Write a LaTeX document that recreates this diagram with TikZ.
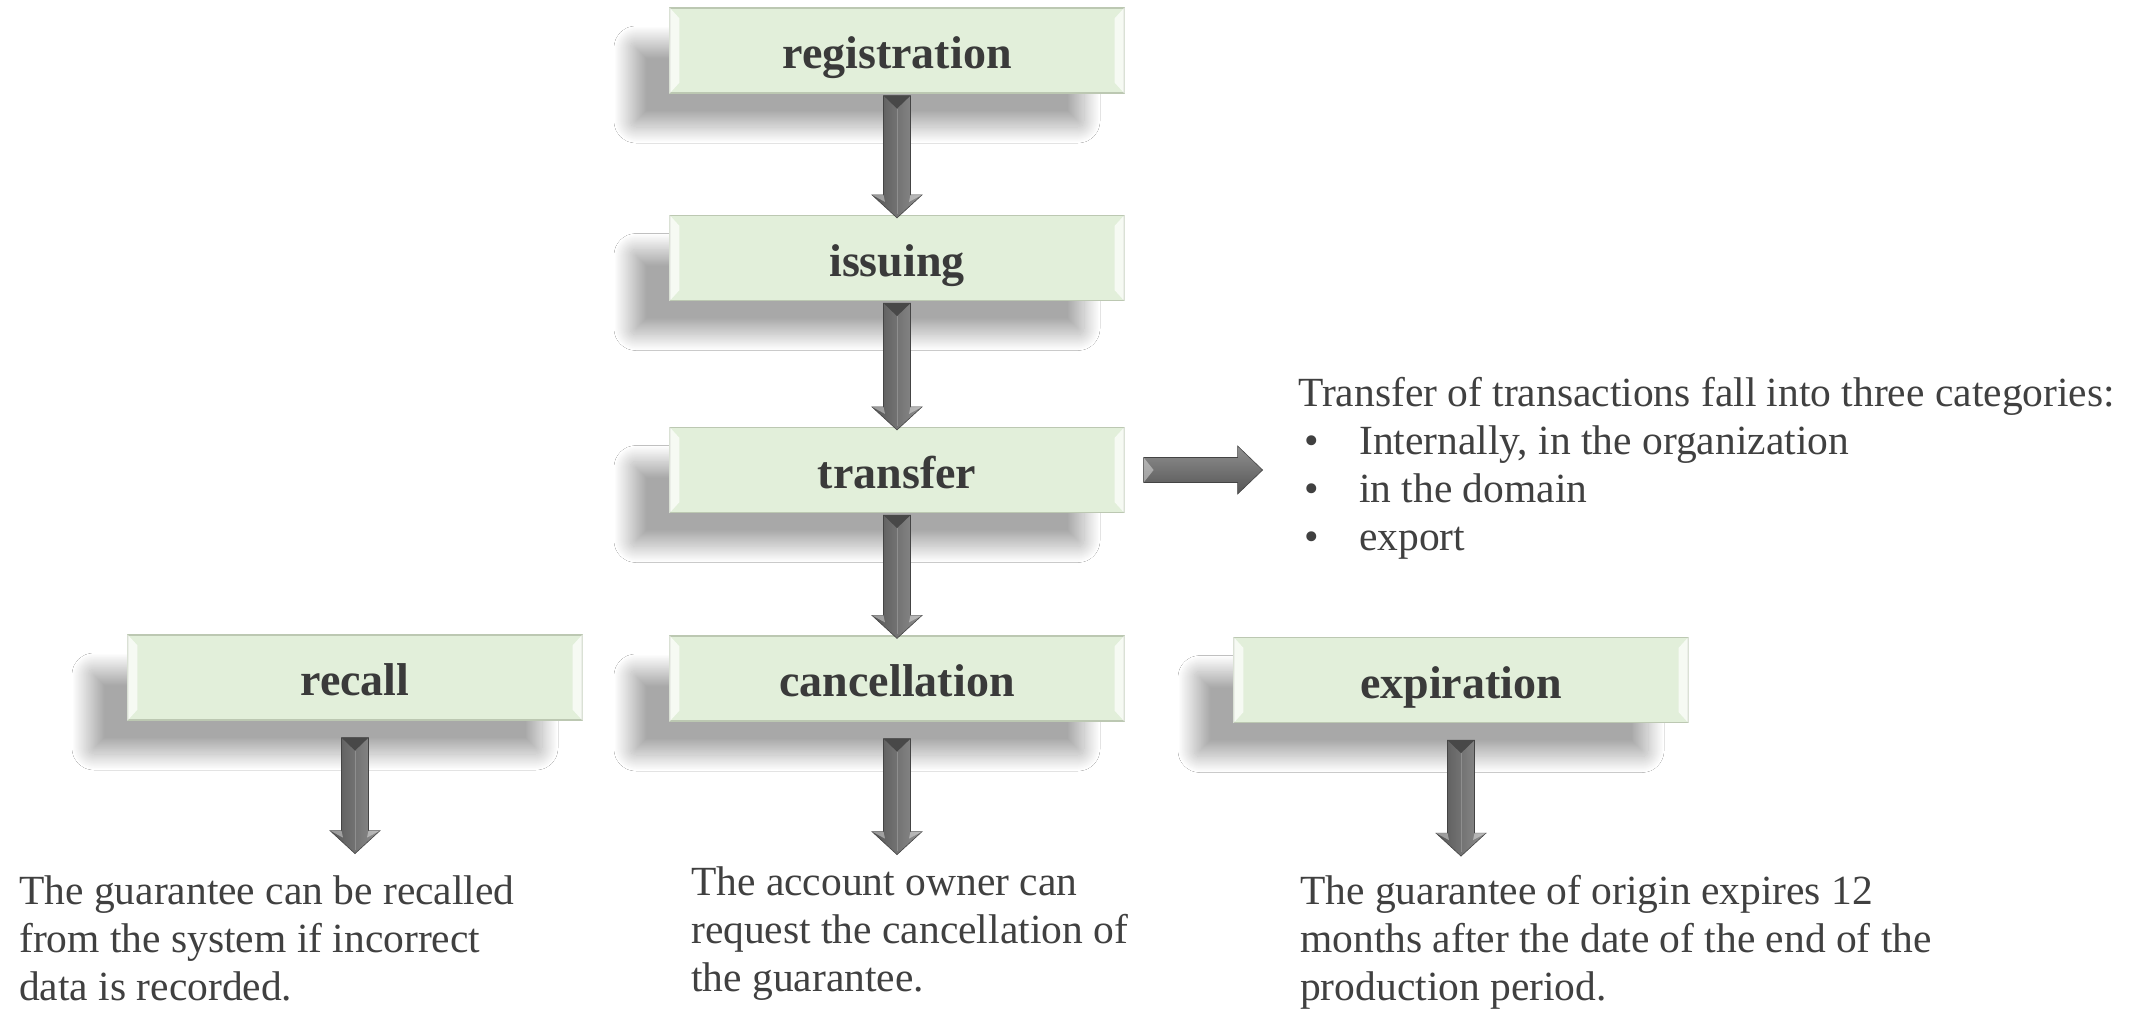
\documentclass[tikz,border=0pt]{standalone}
\usepackage{fontspec}
\setmainfont{Liberation Serif}
\usetikzlibrary{calc,shadows.blur}
\definecolor{boxfill}{HTML}{E2EFDA}
\definecolor{boxline}{HTML}{BCC8B2}
\definecolor{labeltext}{HTML}{3A3A3A}
\definecolor{bodytext}{HTML}{404040}
\definecolor{arrdark}{HTML}{555555}
\definecolor{arrlight}{HTML}{909090}

\tikzset{
 stage/.style={draw=boxline, line width=1.2pt, fill=boxfill, minimum width=454pt,
   minimum height=85pt, inner sep=0pt, text=labeltext, text height=36pt, text depth=0pt,
   font=\fontsize{46}{55}\selectfont\bfseries,
   blur shadow={shadow xshift=-40pt, shadow yshift=-34pt, shadow blur radius=16pt,
     shadow blur extra rounding=6pt, shadow blur steps=50, shadow opacity=34}},
 note/.style={anchor=north west, inner sep=0pt, align=left, text=bodytext,
   font=\fontsize{41.5}{48}\selectfont},
 bevel/.style={fill=white, opacity=.7},
}

\newcommand\vblock[2]{%
 \shade[left color=arrdark, right color=arrlight, draw=arrdark!80!black, line width=0.6pt]
   let \p1=(#1), \p2=(#2) in
   (\x1-13.5,\y1) -- (\x1+13.5,\y1) -- (\x1+13.5,\y2+23) -- (\x1+25,\y2+23) -- (\x1,\y2)
   -- (\x1-25,\y2+23) -- (\x1-13.5,\y2+23) -- cycle;
 \fill[arrdark!85!black] let \p1=(#1) in
   (\x1-13.5,\y1) -- (\x1+13.5,\y1) -- (\x1,\y1-13) -- cycle;
 \fill[white,opacity=.4] let \p1=(#1),\p2=(#2) in
   (\x1-25,\y2+23) -- (\x1-13.5,\y2+23) -- (\x1-12,\y2+16) -- cycle
   (\x1+25,\y2+23) -- (\x1+13.5,\y2+23) -- (\x1+12,\y2+16) -- cycle;
 \draw[white,opacity=.2,line width=1pt] let \p1=(#1),\p2=(#2) in
   (\x1,\y1-13) -- (\x1,\y2+4);
}
\newcommand\hblock[2]{%
 \shade[top color=arrlight, bottom color=arrdark, draw=arrdark!80!black, line width=0.6pt]
   let \p1=(#1), \p2=(#2) in
   (\x1,\y1+12.5) -- (\x2-25,\y1+12.5) -- (\x2-25,\y1+24) -- (\x2,\y1)
   -- (\x2-25,\y1-24) -- (\x2-25,\y1-12.5) -- (\x1,\y1-12.5) -- cycle;
 \fill[white,opacity=.4] let \p1=(#1) in
   (\x1,\y1+12.5) -- (\x1+10,\y1) -- (\x1,\y1-12.5) -- cycle;
}
\newcommand\boxbevel[1]{%
 \fill[bevel] (#1.north west) -- ++(10,-11) -- ($(#1.south west)+(10,11)$) -- (#1.south west) -- cycle;
 \fill[bevel] (#1.north east) -- ++(-10,-11) -- ($(#1.south east)+(-10,11)$) -- (#1.south east) -- cycle;
}

\begin{document}
\begin{tikzpicture}[x=1pt,y=1pt]
\useasboundingbox (0,0) rectangle (2141,-1009);
\fill[white] (0,0) rectangle (2141,-1009);

\node[stage] (reg) at (897,-50.5) {registration};
\node[stage] (iss) at (897,-258) {issuing};
\node[stage] (tra) at (897,-470) {transfer};
\node[stage] (can) at (897,-678.5) {cancellation};
\node[stage] (rec) at (355,-677.5) {recall};
\node[stage] (exp) at (1461,-680) {expiration};
\foreach \n in {reg,iss,tra,can,rec,exp} {\boxbevel{\n}}

\node[note] (tnote) at (1298,-377) {Transfer of transactions fall into three categories:\\
 \makebox[61pt][l]{\hspace{6pt}•}Internally, in the organization\\
 \makebox[61pt][l]{\hspace{6pt}•}in the domain\\
 \makebox[61pt][l]{\hspace{6pt}•}export};
\node[note] (recnote) at (19,-875) {The guarantee can be recalled\\ from the system if incorrect\\ data is recorded.};
\node[note] (cannote) at (691,-866) {The account owner can\\ request the cancellation of\\ the guarantee.};
\node[note] (expnote) at (1300,-875) {The guarantee of origin expires 12\\ months after the date of the end of the\\ production period.};

\coordinate (recend) at ($(rec.south)+(0,-133)$);
\coordinate (canend) at ($(can.south)+(0,-133)$);
\coordinate (expend) at ($(exp.south)+(0,-133)$);
\coordinate (traend) at ($(tra.east)+(138,0)$);

\vblock{$(reg.south)+(0,-2)$}{$(iss.north)+(0,-3)$}
\vblock{$(iss.south)+(0,-2)$}{$(tra.north)+(0,-3)$}
\vblock{$(tra.south)+(0,-2)$}{$(can.north)+(0,-3)$}
\vblock{$(rec.south)+(0,-17)$}{recend}
\vblock{$(can.south)+(0,-17)$}{canend}
\vblock{$(exp.south)+(0,-17)$}{expend}
\hblock{$(tra.east)+(19,0)$}{traend}
\end{tikzpicture}
\end{document}
